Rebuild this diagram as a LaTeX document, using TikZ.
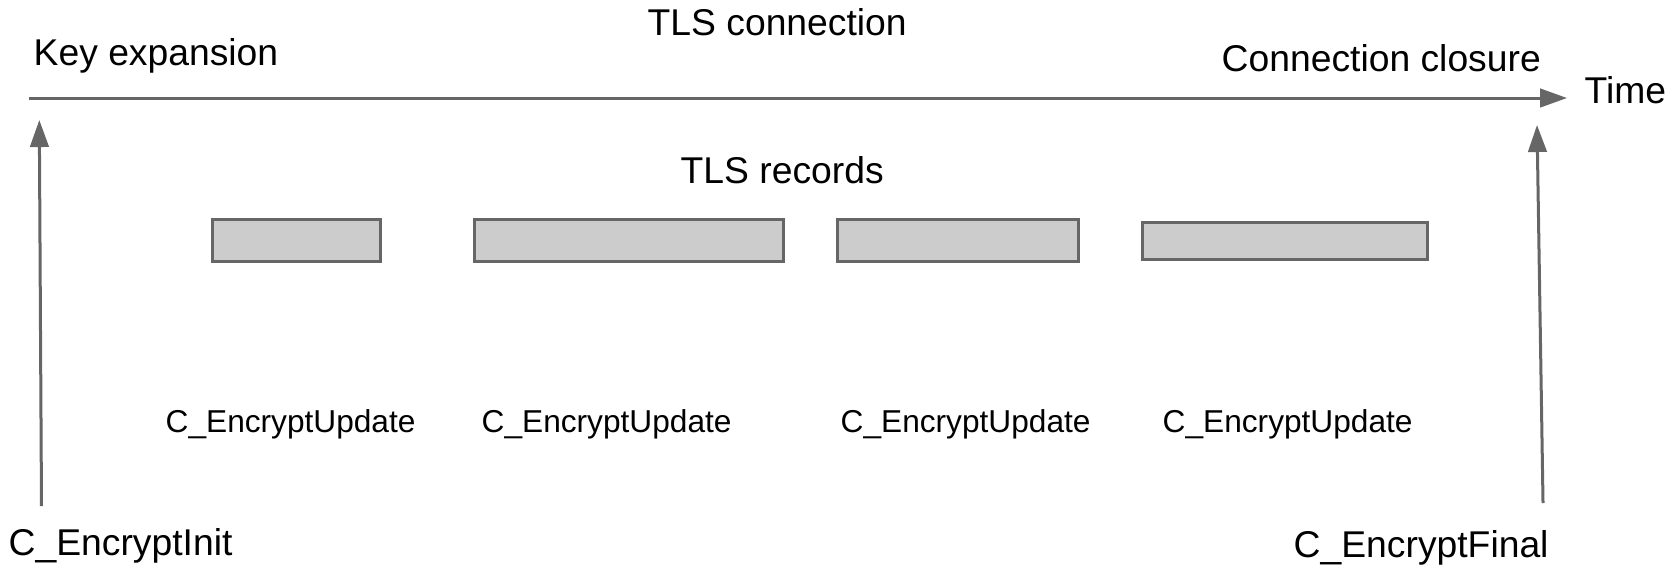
\documentclass[tikz,border=0pt]{standalone}
\usepackage{fontspec}
\setmainfont{Liberation Sans}
\usetikzlibrary{arrows.meta}
\definecolor{linegray}{HTML}{666666}
\definecolor{recordgray}{HTML}{CCCCCC}
\tikzset{
	lbl/.style={inner sep=0pt, anchor=base west, font=\fontsize{10.6}{12}\selectfont},
	calllbl/.style={inner sep=0pt, anchor=base west, font=\fontsize{9}{11}\selectfont},
	record/.style={draw=linegray, fill=recordgray, line width=0.3mm, inner sep=0pt, minimum height=0.42cm},
	timearrow/.style={draw=linegray, line width=0.3mm, -{Triangle[length=2.7mm, width=1.85mm]}}
}
\begin{document}
\begin{tikzpicture}[x=0.01cm, y=-0.01cm]
		\useasboundingbox (0, 0) rectangle (1680, 566);
		\coordinate (tstart) at (29, 98);
		\coordinate (tend) at (1567, 98);
		\coordinate (initbot) at (41.5, 506);
		\coordinate (inittop) at (39.3, 120);
		\coordinate (finalbot) at (1543, 503);
		\coordinate (finaltop) at (1537, 125);
		\node(conn)[lbl] at (647, 35) {TLS connection};
		\node(keyexp)[lbl] at (33, 65) {Key expansion};
		\node(closure)[lbl] at (1221, 71) {Connection closure};
		\node(time)[lbl] at (1584, 103) {Time};
		\node(records)[lbl] at (680, 183) {TLS records};
		\node(rec1)[record, minimum width=1.68cm] at (296.5, 240.5) {};
		\node(rec2)[record, minimum width=3.08cm] at (629, 240.5) {};
		\node(rec3)[record, minimum width=2.40cm] at (958, 240.5) {};
		\node(rec4)[record, minimum width=2.84cm, minimum height=0.37cm] at (1285, 241) {};
		\node(upd1)[calllbl] at (165, 432) {C\_EncryptUpdate};
		\node(upd2)[calllbl] at (481, 432) {C\_EncryptUpdate};
		\node(upd3)[calllbl] at (840, 432) {C\_EncryptUpdate};
		\node(upd4)[calllbl] at (1162, 432) {C\_EncryptUpdate};
		\node(init)[lbl] at (8, 555) {C\_EncryptInit};
		\node(final)[lbl] at (1293, 557) {C\_EncryptFinal};
		\draw[timearrow] (tstart) -- (tend);
		\draw[timearrow] (initbot) -- (inittop);
		\draw[timearrow] (finalbot) -- (finaltop);
\end{tikzpicture}
\end{document}
